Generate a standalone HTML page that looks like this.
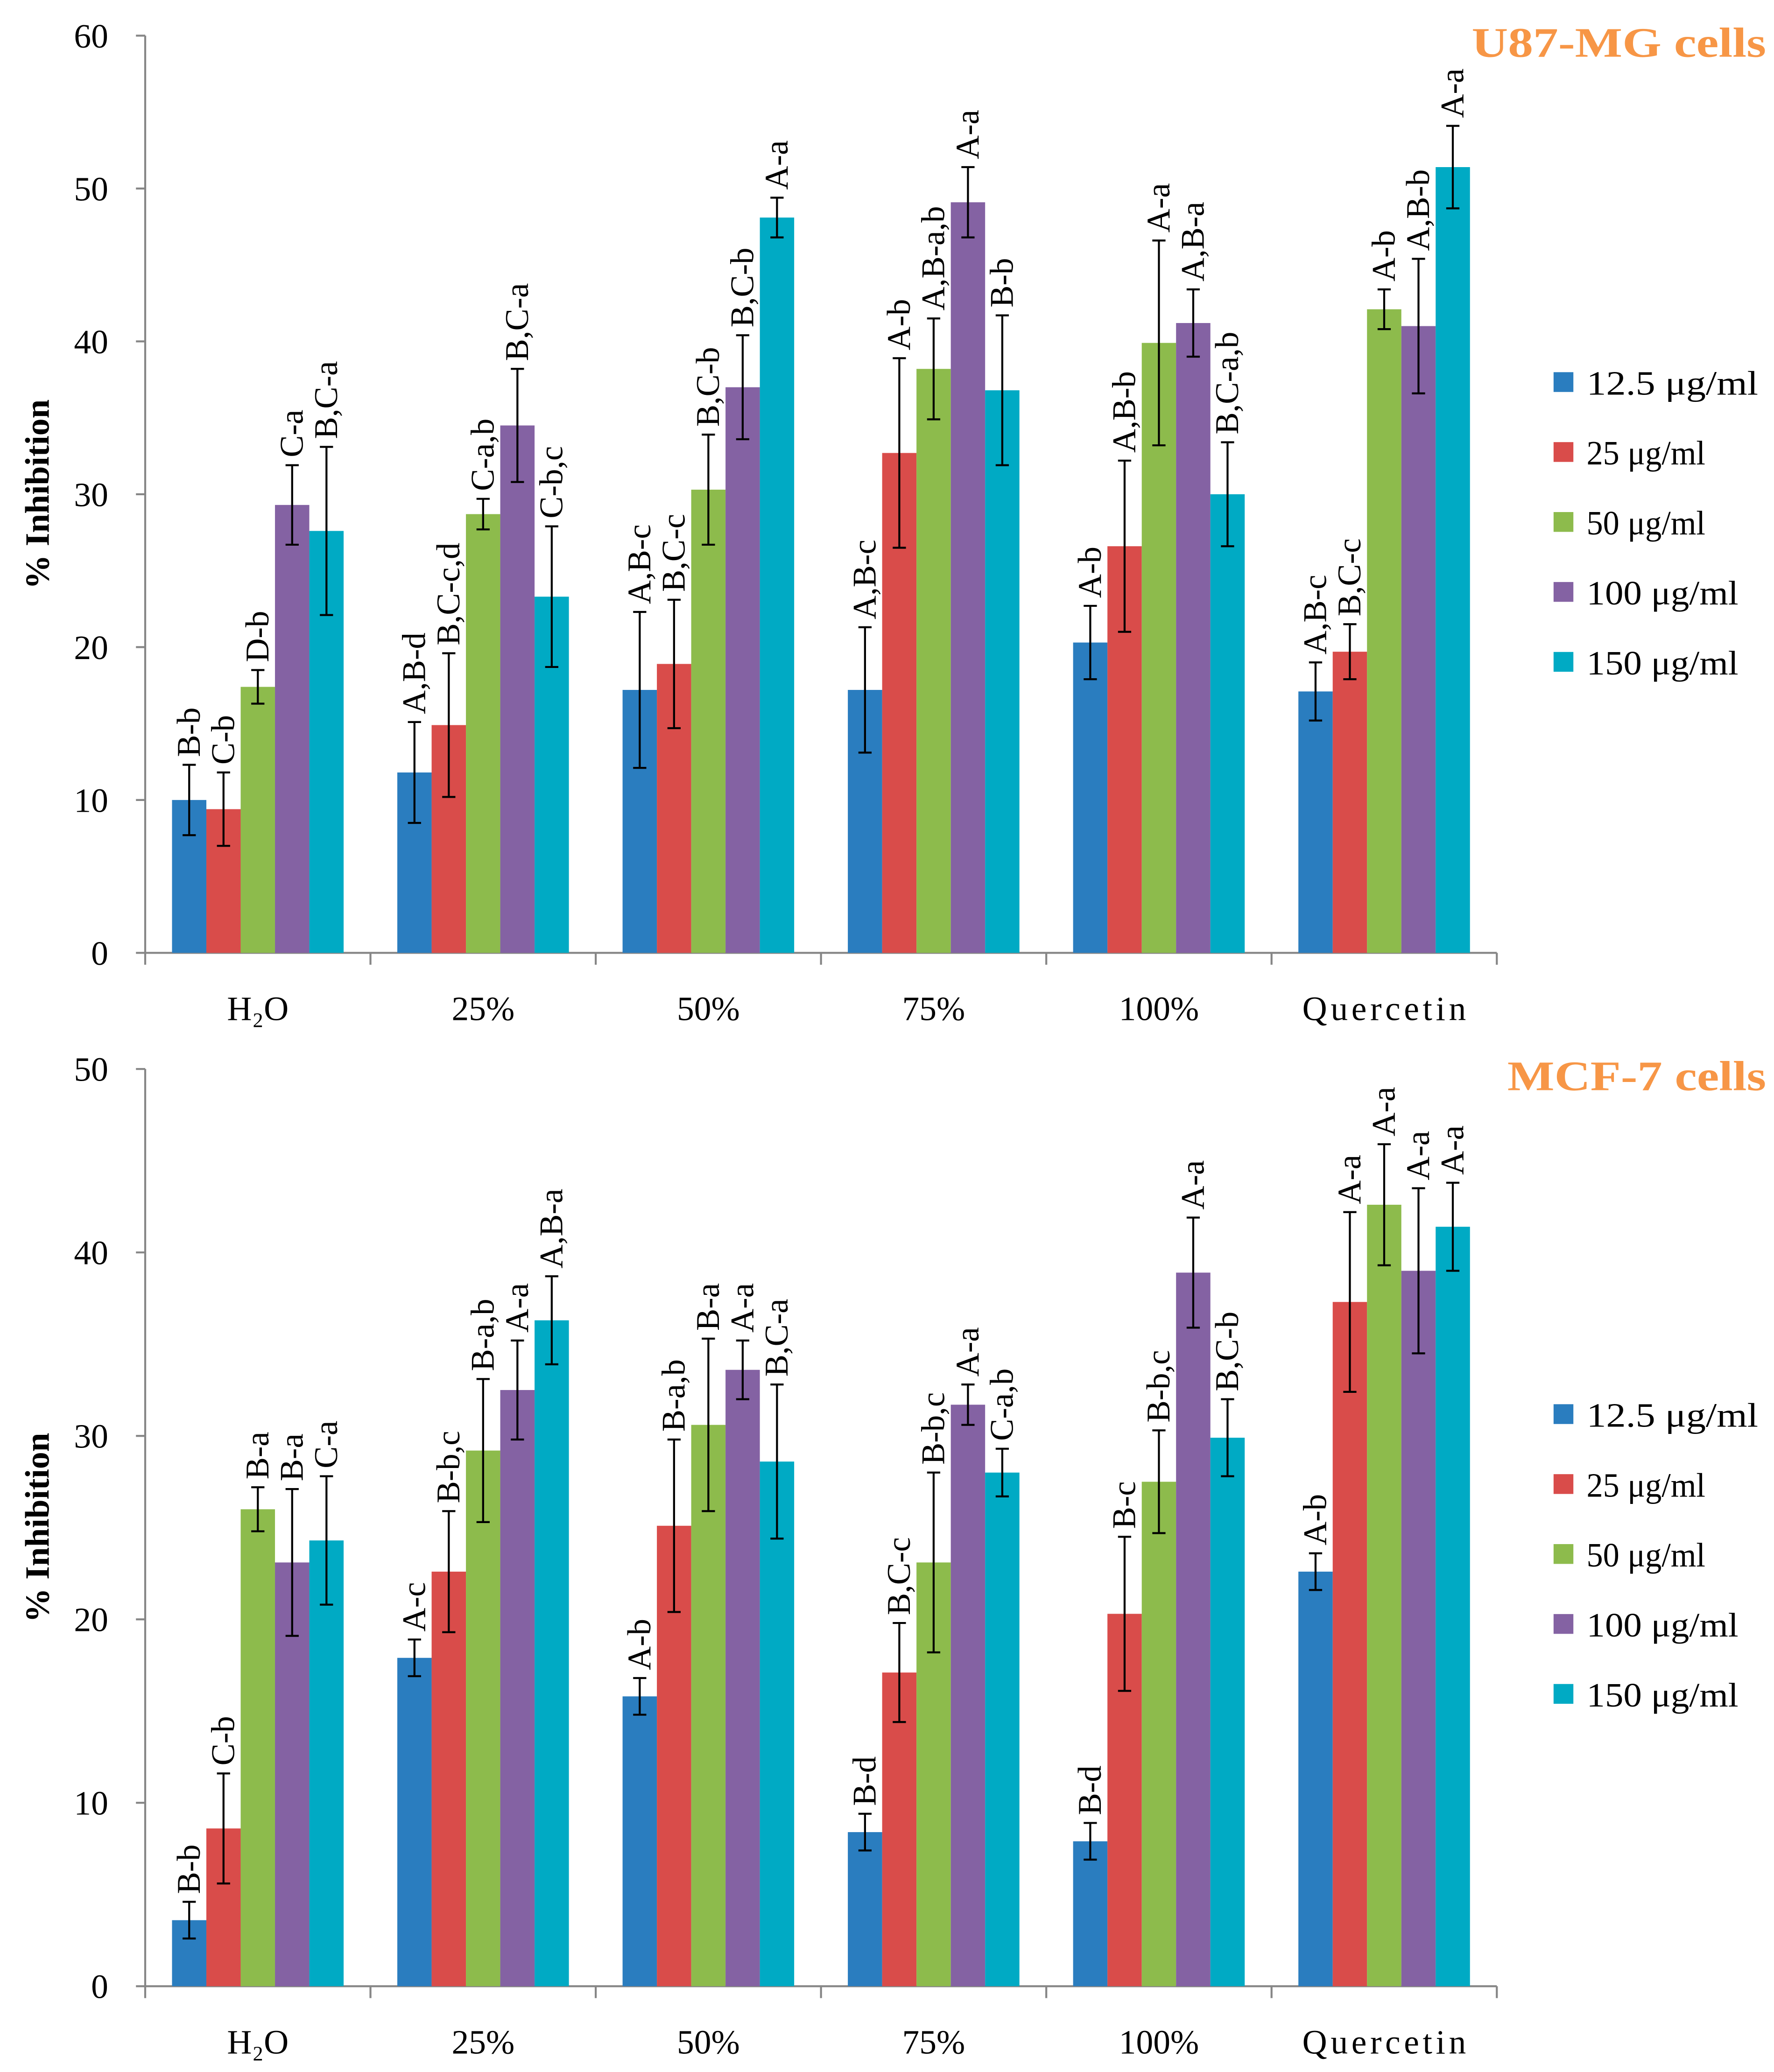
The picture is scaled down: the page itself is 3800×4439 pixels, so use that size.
<!DOCTYPE html>
<html><head><meta charset="utf-8">
<style>
html,body{margin:0;padding:0;background:#fff;}
svg{display:block;}
text{font-family:"Liberation Serif",serif;}
</style></head>
<body>
<svg id="chart" width="3800" height="4439" viewBox="0 0 1344 1570" xmlns="http://www.w3.org/2000/svg"></svg>
<script>
const categories = ["H₂O","25%","50%","75%","100%","Quercetin"];
const seriesNames = ["12.5 μg/ml","25 μg/ml","50 μg/ml","100 μg/ml","150 μg/ml"];
const colors = ["#2a7dbf","#d94c4a","#8dbb4c","#8462a3","#00aac4"];
// U87-MG values [group][series]
const u87Values = [
 [10.0,9.4,17.4,29.3,27.6],
 [11.8,14.9,28.7,34.5,23.3],
 [17.2,18.9,30.3,37.0,48.1],
 [17.2,32.7,38.2,49.1,36.8],
 [20.3,26.6,39.9,41.2,30.0],
 [17.1,19.7,42.1,41.0,51.4]];
const u87Errors = [
 [2.3,2.4,1.1,2.6,5.5],
 [3.3,4.7,1.0,3.7,4.6],
 [5.1,4.2,3.6,3.4,1.3],
 [4.1,6.2,3.3,2.3,4.9],
 [2.4,5.6,6.7,2.2,3.4],
 [1.9,1.8,1.3,4.4,2.7]];
const u87Labels = [
 ["B-b","C-b","D-b","C-a","B,C-a"],
 ["A,B-d","B,C-c,d","C-a,b","B,C-a","C-b,c"],
 ["A,B-c","B,C-c","B,C-b","B,C-b","A-a"],
 ["A,B-c","A-b","A,B-a,b","A-a","B-b"],
 ["A-b","A,B-b","A-a","A,B-a","B,C-a,b"],
 ["A,B-c","B,C-c","A-b","A,B-b","A-a"]];
const u87Ticks = [0,10,20,30,40,50,60];
// MCF-7
const mcfValues = [
 [3.6,8.6,26.0,23.1,24.3],
 [17.9,22.6,29.2,32.5,36.3],
 [15.8,25.1,30.6,33.6,28.6],
 [8.4,17.1,23.1,31.7,28.0],
 [7.9,20.3,27.5,38.9,29.9],
 [22.6,37.3,42.6,39.0,41.4]];
const mcfErrors = [
 [1.0,3.0,1.2,4.0,3.5],
 [1.0,3.3,3.9,2.7,2.4],
 [1.0,4.7,4.7,1.6,4.2],
 [1.0,2.7,4.9,1.1,1.3],
 [1.0,4.2,2.8,3.0,2.1],
 [1.0,4.9,3.3,4.5,2.4]];
const mcfLabels = [
 ["B-b","C-b","B-a","B-a","C-a"],
 ["A-c","B-b,c","B-a,b","A-a","A,B-a"],
 ["A-b","B-a,b","B-a","A-a","B,C-a"],
 ["B-d","B,C-c","B-b,c","A-a","C-a,b"],
 ["B-d","B-c","B-b,c","A-a","B,C-b"],
 ["A-b","A-a","A-a","A-a","A-a"]];
const mcfTicks = [0,10,20,30,40,50];

const NS="http://www.w3.org/2000/svg";
const svg=document.getElementById('chart');
function mk(tag,attrs,parent){const e=document.createElementNS(NS,tag);for(const k in attrs)e.setAttribute(k,attrs[k]);(parent||svg).appendChild(e);return e;}

function drawPanel(opt){
  const g=mk('g',{});
  
  
  const x0=110,x1=1134,y0=opt.y0,yTop=opt.yTop,max=opt.ticks[opt.ticks.length-1];
  const y=v=>y0-(v/max)*(y0-yTop);
  const gw=(x1-x0)/categories.length, bw=26;
  const ya=mk('line',{x1:x0,y1:yTop,x2:x0,y2:y0,stroke:'#868686','stroke-width':1.5},g);
  
  const xa=mk('line',{x1:x0,y1:y0,x2:x1,y2:y0,stroke:'#868686','stroke-width':1.5},g);
  
  opt.ticks.forEach(t=>{
    mk('line',{x1:x0-7,y1:y(t),x2:x0,y2:y(t),stroke:'#868686','stroke-width':1.5},g);
    const tl=mk('text',{x:x0-28,y:y(t)+9,'text-anchor':'end','font-size':26,fill:'#000'},g);
    tl.textContent=t;
    
  });
  for(let i=0;i<=categories.length;i++){
    mk('line',{x1:x0+i*gw,y1:y0,x2:x0+i*gw,y2:y0+9,stroke:'#868686','stroke-width':1.5},g);
  }
  categories.forEach((c,i)=>{
    const xl=mk('text',{x:x0+gw*(i+0.5),y:y0+51,'text-anchor':'middle','font-size':26,fill:'#000'},g);
    xl.textContent=c;
    if(c==='Quercetin') xl.setAttribute('textLength','124');
    
    const gs=x0+gw*i+(gw-bw*5)/2;
    opt.values[i].forEach((v,s)=>{
      const bx=gs+s*bw;
      const r=mk('rect',{x:bx,y:y(v),width:bw,height:y0-y(v),fill:colors[s]},g);
      
      const e=opt.errors[i][s], cx=bx+bw/2;
      const eb=mk('path',{d:`M${cx},${y(v+e)}V${y(v-e)}M${cx-5},${y(v+e)}H${cx+5}M${cx-5},${y(v-e)}H${cx+5}`,stroke:'#000','stroke-width':1.5,fill:'none'},g);
      
      const ly=y(v+e)-6;
      const lt=mk('text',{x:0,y:0,'font-size':25,fill:'#000',transform:`translate(${cx+8},${ly}) rotate(-90)`},g);
      lt.textContent=opt.labels[i][s];
      
    });
  });
  const yt=mk('text',{x:0,y:0,'font-size':26,'font-weight':'bold','text-anchor':'middle',fill:'#000',transform:`translate(37,${(y0+yTop)/2}) rotate(-90)`},g);
  yt.textContent='% Inhibition';
  
  const tw=opt.title.length>11?223:196;
  const tt=mk('text',{x:1338-tw,y:yTop+16,'font-size':32,'font-weight':'bold',fill:'#f79646',textLength:tw,lengthAdjust:'spacingAndGlyphs'},g);
  tt.textContent=opt.title;
  
  const lw=[130,90,90,115,115];
  seriesNames.forEach((n,s)=>{
    const ly=opt.legendY+s*53;
    const lg=mk('g',{},lg0=g);
    
    mk('rect',{x:1177,y:ly-8,width:15,height:15,fill:colors[s]},lg);
    const lt=mk('text',{x:1202,y:ly+9,'font-size':26,fill:'#000',textLength:lw[s],lengthAdjust:'spacingAndGlyphs'},lg);
    lt.textContent=n;
  });
}
var lg0;
drawPanel({name:'u87-mg-panel',title:'U87-MG cells',y0:722,yTop:27,ticks:u87Ticks,values:u87Values,errors:u87Errors,labels:u87Labels,legendY:290});
drawPanel({name:'mcf-7-panel',title:'MCF-7 cells',y0:1505,yTop:810,ticks:mcfTicks,values:mcfValues,errors:mcfErrors,labels:mcfLabels,legendY:1072});
</script>
</body></html>
